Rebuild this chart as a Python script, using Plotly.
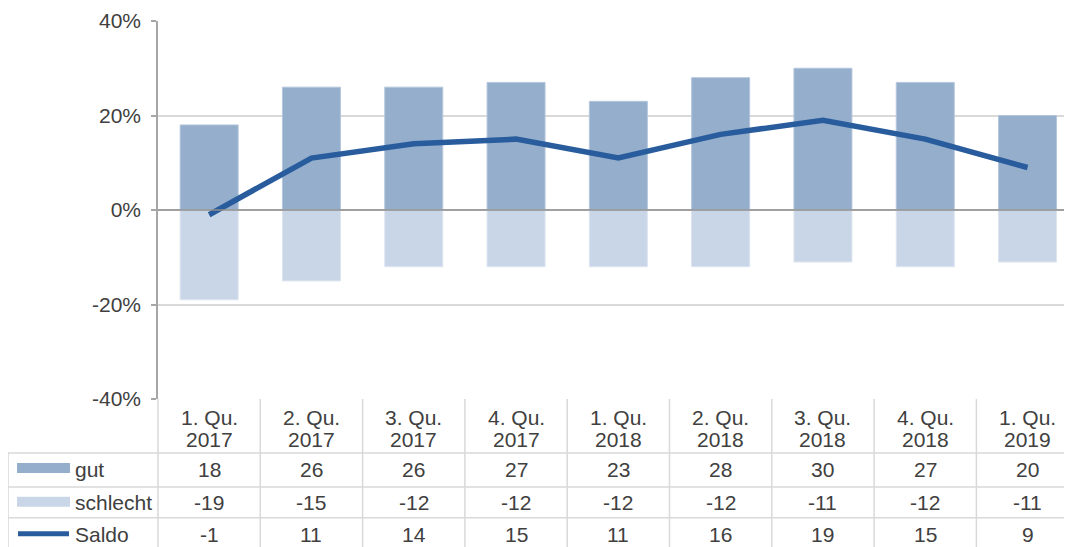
import plotly.graph_objects as go

# ---- data ----
quarters = ["1. Qu.", "2. Qu.", "3. Qu.", "4. Qu.", "1. Qu.", "2. Qu.", "3. Qu.", "4. Qu.", "1. Qu."]
years = ["2017", "2017", "2017", "2017", "2018", "2018", "2018", "2018", "2019"]
gut = [18, 26, 26, 27, 23, 28, 30, 27, 20]
schlecht = [-19, -15, -12, -12, -12, -12, -11, -12, -11]
saldo = [-1, 11, 14, 15, 11, 16, 19, 15, 9]
series_names = ["gut", "schlecht", "Saldo"]
y_ticks = [-40, -20, 0, 20, 40]

# ---- style ----
OFF = 8                      # page body margin of the html
SW, SH = 1072, 547           # screen size
W, H = SW - OFF, SH - OFF    # figure size
PLOT_L, PLOT_T, PLOT_B = 158, 20.5, 399   # plot area in screen pixels
L = PLOT_L - OFF
T = PLOT_T - OFF
B = H - (PLOT_B - OFF)
PW = SW - PLOT_L
PH = PLOT_B - PLOT_T
COLW = 102.3
C_GUT = "#94AECC"
C_SCH = "#C9D6E7"
C_LINE = "#285C9D"
GRID = "#D9D9D9"
TXT = "#404040"
FONT = "Liberation Sans, Arial, sans-serif"
FS = 21

def fx(px):
    return (px - PLOT_L) / PW

def fy(py):
    return (PLOT_B - py) / PH

cats = list(range(len(gut)))

fig = go.Figure()
fig.add_trace(go.Bar(x=cats, y=gut, name="gut", marker=dict(color=C_GUT, line=dict(color="#B4C6DC", width=1)), width=0.567))
fig.add_trace(go.Bar(x=cats, y=schlecht, name="schlecht", marker=dict(color=C_SCH, line=dict(color="#DCE4EF", width=1)), width=0.567))
fig.add_trace(go.Scatter(x=cats, y=saldo, name="Saldo", mode="lines", line=dict(color=C_LINE, width=5.5)))

shapes = []
annotations = []

# zero line above bars
shapes.append(dict(type="line", xref="paper", yref="y", x0=0, x1=1, y0=0, y1=0,
                   line=dict(color="#8C8C8C", width=1.5), layer="above"))

# table geometry (screen pixels)
row_lines = [453, 487, 518]
row_centers = [470, 503, 535]
table_left = 8
line_style = dict(color=GRID, width=1.5)

for yy in row_lines:
    shapes.append(dict(type="line", xref="paper", yref="paper", x0=fx(table_left), x1=fx(SW + 5),
                       y0=fy(yy), y1=fy(yy), line=line_style))
shapes.append(dict(type="line", xref="paper", yref="paper", x0=fx(table_left), x1=fx(table_left),
                   y0=fy(453), y1=fy(SH + 5), line=line_style))
for k in range(1, len(gut) + 1):
    xx = PLOT_L + k * COLW
    shapes.append(dict(type="line", xref="paper", yref="paper", x0=fx(xx), x1=fx(xx),
                       y0=fy(PLOT_B), y1=fy(SH + 5), line=line_style))
shapes.append(dict(type="line", xref="paper", yref="paper", x0=fx(PLOT_L), x1=fx(PLOT_L),
                   y0=fy(PLOT_B), y1=fy(SH + 5), line=line_style))

# header labels
for i in range(len(quarters)):
    cx = PLOT_L + (i + 0.5) * COLW
    annotations.append(dict(text=quarters[i], xref="paper", yref="paper", x=fx(cx), y=fy(418),
                            showarrow=False, xanchor="center", yanchor="middle",
                            font=dict(family=FONT, size=FS, color=TXT)))
    annotations.append(dict(text=years[i], xref="paper", yref="paper", x=fx(cx), y=fy(440),
                            showarrow=False, xanchor="center", yanchor="middle",
                            font=dict(family=FONT, size=FS, color=TXT)))

# table values
for r, vals in enumerate([gut, schlecht, saldo]):
    for i, v in enumerate(vals):
        cx = PLOT_L + (i + 0.5) * COLW
        txt = str(v) if v >= 0 else "-" + str(abs(v))
        annotations.append(dict(text=txt, xref="paper", yref="paper", x=fx(cx), y=fy(row_centers[r]),
                                showarrow=False, xanchor="center", yanchor="middle",
                                font=dict(family=FONT, size=FS, color=TXT)))
    annotations.append(dict(text=series_names[r], xref="paper", yref="paper", x=fx(73), y=fy(row_centers[r]),
                            showarrow=False, xanchor="left", yanchor="middle",
                            font=dict(family=FONT, size=FS, color=TXT)))

# legend keys
shapes.append(dict(type="rect", xref="paper", yref="paper", x0=fx(17), x1=fx(70), y0=fy(463), y1=fy(473),
                   fillcolor=C_GUT, line=dict(width=0)))
shapes.append(dict(type="rect", xref="paper", yref="paper", x0=fx(17), x1=fx(70), y0=fy(497), y1=fy(507),
                   fillcolor=C_SCH, line=dict(width=0)))
shapes.append(dict(type="line", xref="paper", yref="paper", x0=fx(18), x1=fx(69), y0=fy(534), y1=fy(534),
                   line=dict(color=C_LINE, width=5)))

fig.update_layout(
    width=W, height=H,
    margin=dict(l=L, r=0, t=T, b=B, pad=0),
    paper_bgcolor="white", plot_bgcolor="white",
    barmode="relative",
    showlegend=False,
    shapes=shapes, annotations=annotations,
    font=dict(family=FONT, size=FS, color=TXT),
    xaxis=dict(range=[-0.5, -0.5 + PW / COLW], showticklabels=False, showgrid=False,
               zeroline=False, showline=False, ticks="", fixedrange=True),
    yaxis=dict(range=[-40, 40], tickmode="array", tickvals=y_ticks,
               ticktext=[("-" if v < 0 else "") + str(abs(v)) + "%" for v in y_ticks],
               showgrid=True, gridcolor=GRID,
               gridwidth=1.5, zeroline=False, showline=True, linecolor="#A6A6A6", linewidth=1.5,
               ticks="outside", ticklen=5, tickcolor="#A6A6A6", tickwidth=1.5,
               ticklabelstandoff=6, tickfont=dict(family=FONT, size=FS, color=TXT)),
)

fig.write_html("out.html")
